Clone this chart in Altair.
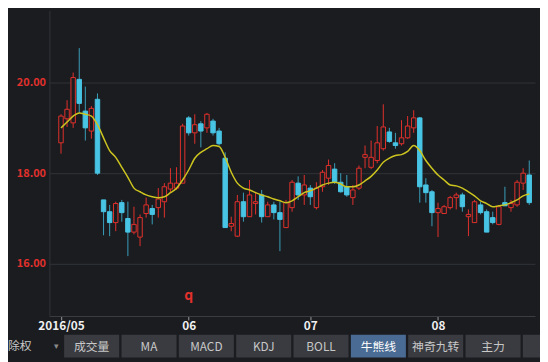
import altair as alt
import pandas as pd

# ---- candle data (trading day index 0 = first day of 2016/05) ----
opens = [18.67, 19.20, 19.11, 20.07, 19.37, 18.93, 19.63, 17.41, 17.15, 16.91,
         17.35, 17.00, 16.70, 16.59, 17.11, 17.22, 17.24, 17.37, 17.65, 17.67,
         17.78, 19.22, 18.89, 19.09, 19.00, 19.15, 18.93, 18.33, 16.83, 16.61,
         17.37, 17.04, 17.33, 17.52, 17.04, 17.30, 17.13, 16.80, 17.24, 17.78,
         17.52, 17.67, 17.24, 17.70, 17.89, 18.09, 17.80, 17.70, 17.46, 17.67,
         18.35, 18.13, 18.28, 18.54, 18.91, 18.67, 18.65, 18.78, 19.00, 19.22,
         17.74, 17.59, 17.13, 17.11, 17.24, 17.46, 17.52, 17.04, 16.91, 17.30,
         17.15, 17.02, 16.87, 17.35, 17.24, 17.30, 17.78, 17.96]
closes = [19.26, 19.41, 20.11, 19.54, 19.00, 19.43, 18.00, 17.15, 16.91, 17.33,
          17.13, 16.70, 16.87, 17.02, 17.30, 17.09, 17.43, 17.70, 17.78, 17.78,
          19.04, 18.89, 19.07, 18.93, 19.30, 18.89, 18.65, 16.80, 16.89, 17.37,
          17.04, 17.52, 17.37, 17.04, 17.30, 17.13, 16.98, 17.35, 17.80, 17.52,
          17.74, 17.48, 17.67, 18.02, 18.17, 17.80, 17.59, 17.52, 17.63, 18.11,
          18.41, 18.35, 18.67, 19.02, 18.70, 18.61, 18.78, 19.04, 19.22, 17.70,
          17.57, 17.13, 17.22, 17.26, 17.46, 17.52, 17.26, 17.09, 17.37, 17.13,
          16.70, 16.91, 17.26, 17.28, 17.33, 17.80, 18.00, 17.35]
highs = [19.30, 19.61, 20.22, 20.76, 19.91, 19.48, 19.76, 17.41, 17.30, 17.37,
         17.41, 17.37, 17.26, 17.09, 17.46, 17.30, 17.67, 17.78, 18.11, 18.13,
         19.09, 19.26, 19.30, 19.15, 19.33, 19.20, 19.00, 18.46, 17.04, 17.52,
         17.57, 17.85, 17.59, 17.63, 17.37, 17.37, 17.37, 17.41, 17.85, 17.93,
         17.96, 17.74, 17.80, 18.07, 18.30, 18.22, 18.00, 17.96, 17.74, 18.17,
         18.61, 18.72, 19.04, 19.52, 19.00, 18.89, 19.17, 19.26, 19.39, 19.24,
         17.89, 17.63, 17.35, 17.30, 17.50, 17.57, 17.57, 17.20, 17.41, 17.37,
         17.20, 17.15, 17.26, 17.70, 17.41, 17.85, 18.11, 18.28]
lows = [18.43, 19.02, 19.00, 19.33, 18.72, 18.76, 17.96, 16.63, 16.61, 16.72,
        16.93, 16.17, 16.65, 16.39, 17.02, 16.87, 17.02, 17.02, 17.57, 17.63,
        17.78, 18.83, 18.65, 18.57, 18.89, 18.83, 18.61, 16.80, 16.72, 16.59,
        16.93, 17.04, 17.09, 16.91, 17.04, 16.98, 16.28, 16.80, 17.15, 17.41,
        17.30, 17.30, 17.20, 17.59, 17.74, 17.76, 17.57, 17.48, 17.30, 17.63,
        18.11, 18.09, 18.22, 18.50, 18.67, 18.54, 18.61, 18.76, 18.89, 17.35,
        17.35, 16.83, 16.59, 17.11, 17.20, 17.20, 17.15, 16.61, 16.91, 17.09,
        16.70, 16.87, 16.85, 17.28, 17.15, 17.26, 17.63, 17.30]
ma_line = [19.00, 19.13, 19.26, 19.33, 19.30, 19.26, 19.07, 18.78, 18.50, 18.35,
           18.13, 17.91, 17.67, 17.59, 17.52, 17.48, 17.46, 17.48, 17.57, 17.67,
           17.85, 18.07, 18.33, 18.46, 18.54, 18.61, 18.59, 18.35, 18.02, 17.78,
           17.67, 17.63, 17.57, 17.52, 17.48, 17.43, 17.39, 17.35, 17.39, 17.48,
           17.57, 17.61, 17.67, 17.74, 17.78, 17.80, 17.76, 17.70, 17.70, 17.74,
           17.83, 17.93, 18.07, 18.24, 18.33, 18.39, 18.41, 18.48, 18.61, 18.50,
           18.28, 18.11, 17.96, 17.85, 17.74, 17.72, 17.67, 17.59, 17.50, 17.39,
           17.33, 17.26, 17.28, 17.30, 17.35, 17.41, 17.50, 17.54]

tick_index = [0, 21, 41, 62]
tick_labels = ["2016/05", "06", "07", "08"]
y_ticks = [16, 18, 20]
marker_index = [21]
marker_text = ["q"]
left_label = "除权"
buttons = ["成交量", "MA", "MACD", "KDJ", "BOLL", "牛熊线", "神奇九转", "主力", ""]
active_button = "牛熊线"

BG = "#1b1c20"
RED = "#e2312c"
CYAN = "#48c4e4"
CYAN_WICK = "#3a9fbb"
FONT = "Noto Sans CJK SC"

df = pd.DataFrame({
    "idx": list(range(len(opens))),
    "open": opens, "close": closes, "high": highs, "low": lows, "ma": ma_line,
})

xs = alt.Scale(domain=[-1.1, 77.15], nice=False, zero=False)
ys = alt.Scale(domain=[14.848, 21.587], nice=False, zero=False)

label_expr = " : ".join(
    f"datum.value == {v} ? '{t}'" for v, t in zip(tick_index, tick_labels)
) + " : ''"

x_axis = alt.Axis(values=tick_index, labelExpr=label_expr, grid=False,
                  domainColor="#3c3e43", tickColor="#9a9a9a", tickSize=4,
                  labelColor="#f0f0f0", labelFontSize=12, labelFontWeight="bold",
                  labelFont=FONT, labelPadding=1, title=None)
y_axis = alt.Axis(values=y_ticks, format=".2f", grid=True, gridColor="#313338",
                  domainColor="#313338", ticks=False, labelColor=RED,
                  labelFontSize=11, labelFontWeight="bold", labelFont=FONT,
                  labelPadding=4, title=None)

up = "datum.close >= datum.open"
base = alt.Chart(df)

wicks = base.mark_rule(strokeWidth=1).encode(
    x=alt.X("idx:Q", scale=xs, axis=x_axis),
    y=alt.Y("low:Q", scale=ys, axis=y_axis),
    y2="high:Q",
    color=alt.condition(up, alt.value(RED), alt.value(CYAN_WICK)),
)
bodies = base.mark_bar(size=4.5, strokeWidth=1).encode(
    x=alt.X("idx:Q", scale=xs),
    y=alt.Y("open:Q", scale=ys),
    y2="close:Q",
    fill=alt.condition(up, alt.value(BG), alt.value(CYAN)),
    stroke=alt.condition(up, alt.value(RED), alt.value(CYAN)),
)
ma = base.mark_line(color="#cdc51f", strokeWidth=1.5, interpolate="monotone").encode(
    x=alt.X("idx:Q", scale=xs),
    y=alt.Y("ma:Q", scale=ys),
)
marker = alt.Chart(pd.DataFrame({"idx": marker_index, "t": marker_text})).mark_text(
    color=RED, fontSize=14, fontWeight="bold", font=FONT, baseline="middle"
).encode(x=alt.X("idx:Q", scale=xs), y=alt.value(290), text="t:N")

main = alt.layer(wicks, bodies, ma, marker)

# ---- indicator button bar under the chart ----
bdf = pd.DataFrame({"k": list(range(1, len(buttons) + 1)), "label": buttons})
bdf["end"] = bdf["k"] + 0.96
bdf["mid"] = bdf["k"] + 0.48
bdf["active"] = bdf["label"] == active_button
bscale = alt.Scale(domain=[1, 2], range=[15, 73.2], nice=False, zero=False)

btn_rect = alt.Chart(bdf).mark_rect().encode(
    x=alt.X("k:Q", scale=bscale, axis=None),
    x2="end:Q",
    y=alt.value(329), y2=alt.value(352),
    color=alt.condition("datum.active", alt.value("#4a6b93"), alt.value("#393b40")),
)
btn_text = alt.Chart(bdf).mark_text(fontSize=12, font=FONT, baseline="middle").encode(
    x=alt.X("mid:Q", scale=bscale, axis=None),
    y=alt.value(341),
    text="label:N",
    color=alt.condition("datum.active", alt.value("#ffffff"), alt.value("#c8c8c8")),
)
left_txt = alt.Chart(pd.DataFrame({"t": [left_label]})).mark_text(
    fontSize=12, font=FONT, align="left", baseline="middle", color="#c8c8c8"
).encode(x=alt.value(-42), y=alt.value(340), text="t:N")
tri = alt.Chart(pd.DataFrame({"t": ["▾"]})).mark_text(
    fontSize=9, font=FONT, baseline="middle", color="#8a8a8a"
).encode(x=alt.value(7), y=alt.value(340), text="t:N")

bar = alt.layer(btn_rect, btn_text, left_txt, tri)

chart = alt.layer(main, bar).resolve_scale(x="independent").properties(
    width=493, height=310,
    autosize=alt.AutoSizeParams(type="none"),
    padding={"left": 42, "top": 0, "right": 5, "bottom": 44},
    background=BG,
).configure_view(strokeWidth=0)

chart.save("out.html", embed_options={"renderer": "svg", "actions": False})
